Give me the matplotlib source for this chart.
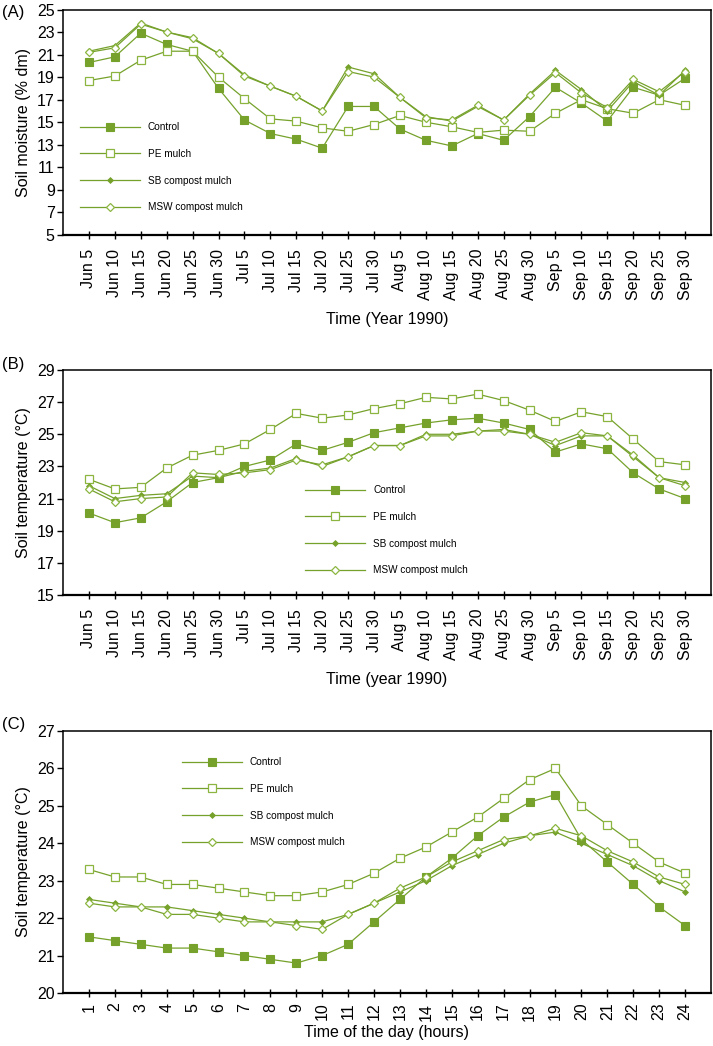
import numpy as np
import matplotlib
matplotlib.use('Agg')
import matplotlib.pyplot as plt

plt.rcParams['font.family'] = ['Liberation Sans', 'DejaVu Sans']

# fechas (A y B) y horas (C)
fechas = ['Jun 5', 'Jun 10', 'Jun 15', 'Jun 20', 'Jun 25', 'Jun 30',
          'Jul 5', 'Jul 10', 'Jul 15', 'Jul 20', 'Jul 25', 'Jul 30',
          'Aug 5', 'Aug 10', 'Aug 15', 'Aug 20', 'Aug 25', 'Aug 30',
          'Sep 5', 'Sep 10', 'Sep 15', 'Sep 20', 'Sep 25', 'Sep 30']
horas = [str(h) for h in range(1, 25)]

series = ['Control', 'PE mulch', 'SB compost mulch', 'MSW compost mulch']

# (A) humedad del suelo
control_A = [20.3, 20.8, 22.9, 21.9, 21.3, 18.0, 15.2, 14.0, 13.5, 12.7, 16.4, 16.4,
             14.4, 13.4, 12.9, 14.0, 13.4, 15.5, 18.1, 16.7, 15.1, 18.1, 17.4, 18.9]
pe_A = [18.7, 19.1, 20.5, 21.3, 21.3, 19.0, 17.1, 15.3, 15.1, 14.5, 14.2, 14.8,
        15.6, 15.0, 14.6, 14.1, 14.3, 14.2, 15.8, 17.0, 16.2, 15.8, 17.0, 16.5]
sb_A = [21.3, 21.8, 23.8, 23.0, 22.4, 21.1, 19.2, 18.2, 17.3, 16.0, 19.9, 19.3,
        17.2, 15.5, 15.1, 16.4, 15.2, 17.5, 19.6, 17.9, 16.0, 18.6, 17.4, 19.6]
msw_A = [21.2, 21.6, 23.7, 23.0, 22.5, 21.1, 19.1, 18.2, 17.3, 16.0, 19.5, 19.0,
         17.2, 15.4, 15.2, 16.5, 15.2, 17.4, 19.4, 17.6, 16.3, 18.8, 17.7, 19.5]

# (B) temperatura del suelo por fecha
control_B = [20.1, 19.5, 19.8, 20.8, 22.0, 22.3, 23.0, 23.4, 24.4, 24.0, 24.5, 25.1,
             25.4, 25.7, 25.9, 26.0, 25.7, 25.3, 23.9, 24.4, 24.1, 22.6, 21.6, 21.0]
pe_B = [22.2, 21.6, 21.7, 22.9, 23.7, 24.0, 24.4, 25.3, 26.3, 26.0, 26.2, 26.6,
        26.9, 27.3, 27.2, 27.5, 27.1, 26.5, 25.8, 26.4, 26.1, 24.7, 23.3, 23.1]
sb_B = [21.8, 21.0, 21.2, 21.3, 22.4, 22.3, 22.7, 22.9, 23.5, 23.0, 23.6, 24.3,
        24.3, 25.0, 25.0, 25.2, 25.3, 25.0, 24.3, 24.9, 24.9, 23.6, 22.3, 22.0]
msw_B = [21.6, 20.8, 21.0, 21.1, 22.6, 22.5, 22.6, 22.8, 23.4, 23.1, 23.6, 24.3,
         24.3, 24.9, 24.9, 25.2, 25.2, 25.0, 24.5, 25.1, 24.9, 23.7, 22.3, 21.8]

# (C) temperatura del suelo por hora
control_C = [21.5, 21.4, 21.3, 21.2, 21.2, 21.1, 21.0, 20.9, 20.8, 21.0, 21.3, 21.9,
             22.5, 23.1, 23.6, 24.2, 24.7, 25.1, 25.3, 24.1, 23.5, 22.9, 22.3, 21.8]
pe_C = [23.3, 23.1, 23.1, 22.9, 22.9, 22.8, 22.7, 22.6, 22.6, 22.7, 22.9, 23.2,
        23.6, 23.9, 24.3, 24.7, 25.2, 25.7, 26.0, 25.0, 24.5, 24.0, 23.5, 23.2]
sb_C = [22.5, 22.4, 22.3, 22.3, 22.2, 22.1, 22.0, 21.9, 21.9, 21.9, 22.1, 22.4,
        22.7, 23.0, 23.4, 23.7, 24.0, 24.2, 24.3, 24.0, 23.7, 23.4, 23.0, 22.7]
msw_C = [22.4, 22.3, 22.3, 22.1, 22.1, 22.0, 21.9, 21.9, 21.8, 21.7, 22.1, 22.4,
         22.8, 23.1, 23.5, 23.8, 24.1, 24.2, 24.4, 24.2, 23.8, 23.5, 23.1, 22.9]

verde = '#76a22c'
verde_claro = '#8cb540'

estilos = [
    dict(marker='s', ms=5.2, mfc=verde, mec=verde, mew=0.8),
    dict(marker='s', ms=5.8, mfc='white', mec=verde_claro, mew=0.9),
    dict(marker='D', ms=3.0, mfc=verde, mec=verde, mew=0.6),
    dict(marker='D', ms=4.4, mfc='white', mec=verde_claro, mew=0.9),
]

fig = plt.figure(figsize=(7.13, 10.46), dpi=100)

W, H = 713.0, 1046.0

def crear_eje(top, bottom):
    return fig.add_axes([63 / W, 1 - bottom / H, 648 / W, (bottom - top) / H])

def dibujar(ax, datos, etiquetas, ylim, yticks, xlabel, ylabel, leg_xy, tpad=7, lpad=9):
    x = np.arange(1, len(etiquetas) + 1)
    for d, nombre, st in zip(datos, series, estilos):
        ax.plot(x, d, color=verde, lw=0.9, label=nombre, **st)
    ax.set_xlim(0, len(etiquetas) + 1)
    ax.set_ylim(*ylim)
    ax.set_yticks(yticks)
    ax.set_xticks(x)
    ax.set_xticklabels(etiquetas, rotation=90)
    ax.tick_params(axis='x', direction='inout', length=6, width=1, pad=tpad, labelsize=11.5)
    ax.tick_params(axis='y', direction='out', length=4, width=1, pad=2, labelsize=11.5)
    for s in ax.spines.values():
        s.set_linewidth(1.1)
    ax.spines['bottom'].set_linewidth(1.6)
    ax.set_xlabel(xlabel, fontsize=11.5, labelpad=lpad)
    ax.set_ylabel(ylabel, fontsize=11.5, labelpad=4)
    ax.legend(loc='upper left', bbox_to_anchor=(leg_xy[0] / W, 1 - leg_xy[1] / H),
              bbox_transform=fig.transFigure, frameon=False, fontsize=7.2,
              handlelength=6.0, handletextpad=0.8, labelspacing=1.68,
              borderpad=0, borderaxespad=0)

axA = crear_eje(9.5, 235)
dibujar(axA, [control_A, pe_A, sb_A, msw_A], fechas, (5, 25), np.arange(5, 26, 2),
        'Time (Year 1990)', 'Soil moisture (% dm)', (80, 122))

axB = crear_eje(370, 595)
dibujar(axB, [control_B, pe_B, sb_B, msw_B], fechas, (15, 29), np.arange(15, 30, 2),
        'Time (year 1990)', 'Soil temperature (°C)', (305, 485))

axC = crear_eje(731, 993)
dibujar(axC, [control_C, pe_C, sb_C, msw_C], horas, (20, 27), np.arange(20, 28, 1),
        'Time of the day (hours)', 'Soil temperature (°C)', (182, 757), tpad=4, lpad=3)

fig.text(2 / W, 1 - 12 / H, '(A)', fontsize=12, va='center')
fig.text(2 / W, 1 - 364 / H, '(B)', fontsize=12, va='center')
fig.text(2 / W, 1 - 724 / H, '(C)', fontsize=12, va='center')

fig.savefig('out.png', dpi=100)
